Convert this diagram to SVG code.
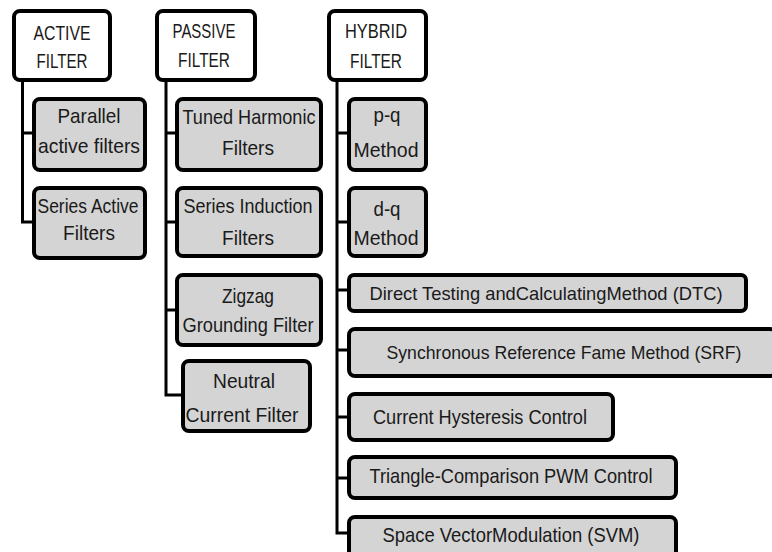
<svg xmlns="http://www.w3.org/2000/svg" width="772" height="552" viewBox="0 0 772 552">
<style>
.hd{fill:#ffffff;stroke:#000;stroke-width:4}
.bx{fill:#d4d4d4;stroke:#000;stroke-width:4}
.t{font-family:"Liberation Sans",Arial,sans-serif;font-size:21px;fill:#1a1a1a;text-anchor:middle}
.s{font-size:19px}
.c{fill:none;stroke:#000;stroke-width:3}
</style>
<rect width="772" height="552" fill="#fff"/>
<g id="connectors">
<path class="c" d="M22.5,80 V222 H34 M22.5,133 H34"/>
<path class="c" d="M166,80 V395 H183 M166,133 H177 M166,222 H177 M166,310 H177"/>
<path class="c" d="M337,80 V533 H349 M337,133 H349 M337,222 H349 M337,290 H349 M337,350 H349 M337,417 H349 M337,478 H349"/>
</g>
<g id="active">
<rect class="hd" x="14" y="11" width="96" height="69" rx="6"/>
<text class="t" x="62" y="40" textLength="57" lengthAdjust="spacingAndGlyphs">ACTIVE</text>
<text class="t" x="62" y="68" textLength="51" lengthAdjust="spacingAndGlyphs">FILTER</text>
</g>
<g id="parallel">
<rect class="bx" x="34" y="99" width="111" height="71" rx="6"/>
<text class="t" x="89" y="123" textLength="63" lengthAdjust="spacingAndGlyphs">Parallel</text>
<text class="t" x="89" y="153" textLength="102" lengthAdjust="spacingAndGlyphs">active filters</text>
</g>
<g id="series-active">
<rect class="bx" x="34" y="188" width="111" height="70" rx="6"/>
<text class="t" x="88" y="213" textLength="101" lengthAdjust="spacingAndGlyphs">Series Active</text>
<text class="t" x="89" y="240" textLength="52" lengthAdjust="spacingAndGlyphs">Filters</text>
</g>
<g id="passive">
<rect class="hd" x="157" y="11" width="98" height="69" rx="6"/>
<text class="t" x="204" y="38" textLength="63" lengthAdjust="spacingAndGlyphs">PASSIVE</text>
<text class="t" x="204" y="67" textLength="52" lengthAdjust="spacingAndGlyphs">FILTER</text>
</g>
<g id="tuned">
<rect class="bx" x="177" y="99" width="144" height="71" rx="6"/>
<text class="t" x="249" y="124" textLength="133" lengthAdjust="spacingAndGlyphs">Tuned Harmonic</text>
<text class="t" x="248" y="155" textLength="52" lengthAdjust="spacingAndGlyphs">Filters</text>
</g>
<g id="series-induction">
<rect class="bx" x="177" y="188" width="144" height="68" rx="6"/>
<text class="t" x="248" y="213" textLength="129" lengthAdjust="spacingAndGlyphs">Series Induction</text>
<text class="t" x="248" y="245" textLength="52" lengthAdjust="spacingAndGlyphs">Filters</text>
</g>
<g id="zigzag">
<rect class="bx" x="177" y="275" width="144" height="70" rx="6"/>
<text class="t" x="248" y="303" textLength="52" lengthAdjust="spacingAndGlyphs">Zigzag</text>
<text class="t" x="248" y="332" textLength="131" lengthAdjust="spacingAndGlyphs">Grounding Filter</text>
</g>
<g id="neutral">
<rect class="bx" x="183" y="361" width="127" height="70" rx="6"/>
<text class="t" x="244" y="388" textLength="62" lengthAdjust="spacingAndGlyphs">Neutral</text>
<text class="t" x="242" y="422" textLength="113" lengthAdjust="spacingAndGlyphs">Current Filter</text>
</g>
<g id="hybrid">
<rect class="hd" x="329" y="11" width="97" height="69" rx="6"/>
<text class="t" x="376" y="38" textLength="62" lengthAdjust="spacingAndGlyphs">HYBRID</text>
<text class="t" x="376" y="68" textLength="52" lengthAdjust="spacingAndGlyphs">FILTER</text>
</g>
<g id="pq">
<rect class="bx" x="349" y="99" width="77" height="71" rx="6"/>
<text class="t" x="387" y="122" textLength="27" lengthAdjust="spacingAndGlyphs">p-q</text>
<text class="t" x="386" y="157" textLength="65" lengthAdjust="spacingAndGlyphs">Method</text>
</g>
<g id="dq">
<rect class="bx" x="349" y="188" width="77" height="68" rx="6"/>
<text class="t" x="387" y="216" textLength="27" lengthAdjust="spacingAndGlyphs">d-q</text>
<text class="t" x="386" y="245" textLength="65" lengthAdjust="spacingAndGlyphs">Method</text>
</g>
<g id="dtc">
<rect class="bx" x="349" y="275" width="397" height="36" rx="5"/>
<text class="t s" x="546" y="300" textLength="353" lengthAdjust="spacingAndGlyphs">Direct Testing andCalculatingMethod (DTC)</text>
</g>
<g id="srf">
<rect class="bx" x="349" y="329" width="427" height="47" rx="6"/>
<text class="t s" x="564" y="359" textLength="355" lengthAdjust="spacingAndGlyphs">Synchronous Reference Fame Method (SRF)</text>
</g>
<g id="chc">
<rect class="bx" x="349" y="394" width="264" height="46" rx="6"/>
<text class="t" x="480" y="424" textLength="214" lengthAdjust="spacingAndGlyphs">Current Hysteresis Control</text>
</g>
<g id="triangle">
<rect class="bx" x="349" y="457" width="327" height="41" rx="6"/>
<text class="t" x="511" y="483" textLength="283" lengthAdjust="spacingAndGlyphs">Triangle-Comparison PWM Control</text>
</g>
<g id="svm">
<rect class="bx" x="349" y="517" width="327" height="50" rx="6"/>
<text class="t" x="511" y="542" textLength="257" lengthAdjust="spacingAndGlyphs">Space VectorModulation (SVM)</text>
</g>
</svg>
